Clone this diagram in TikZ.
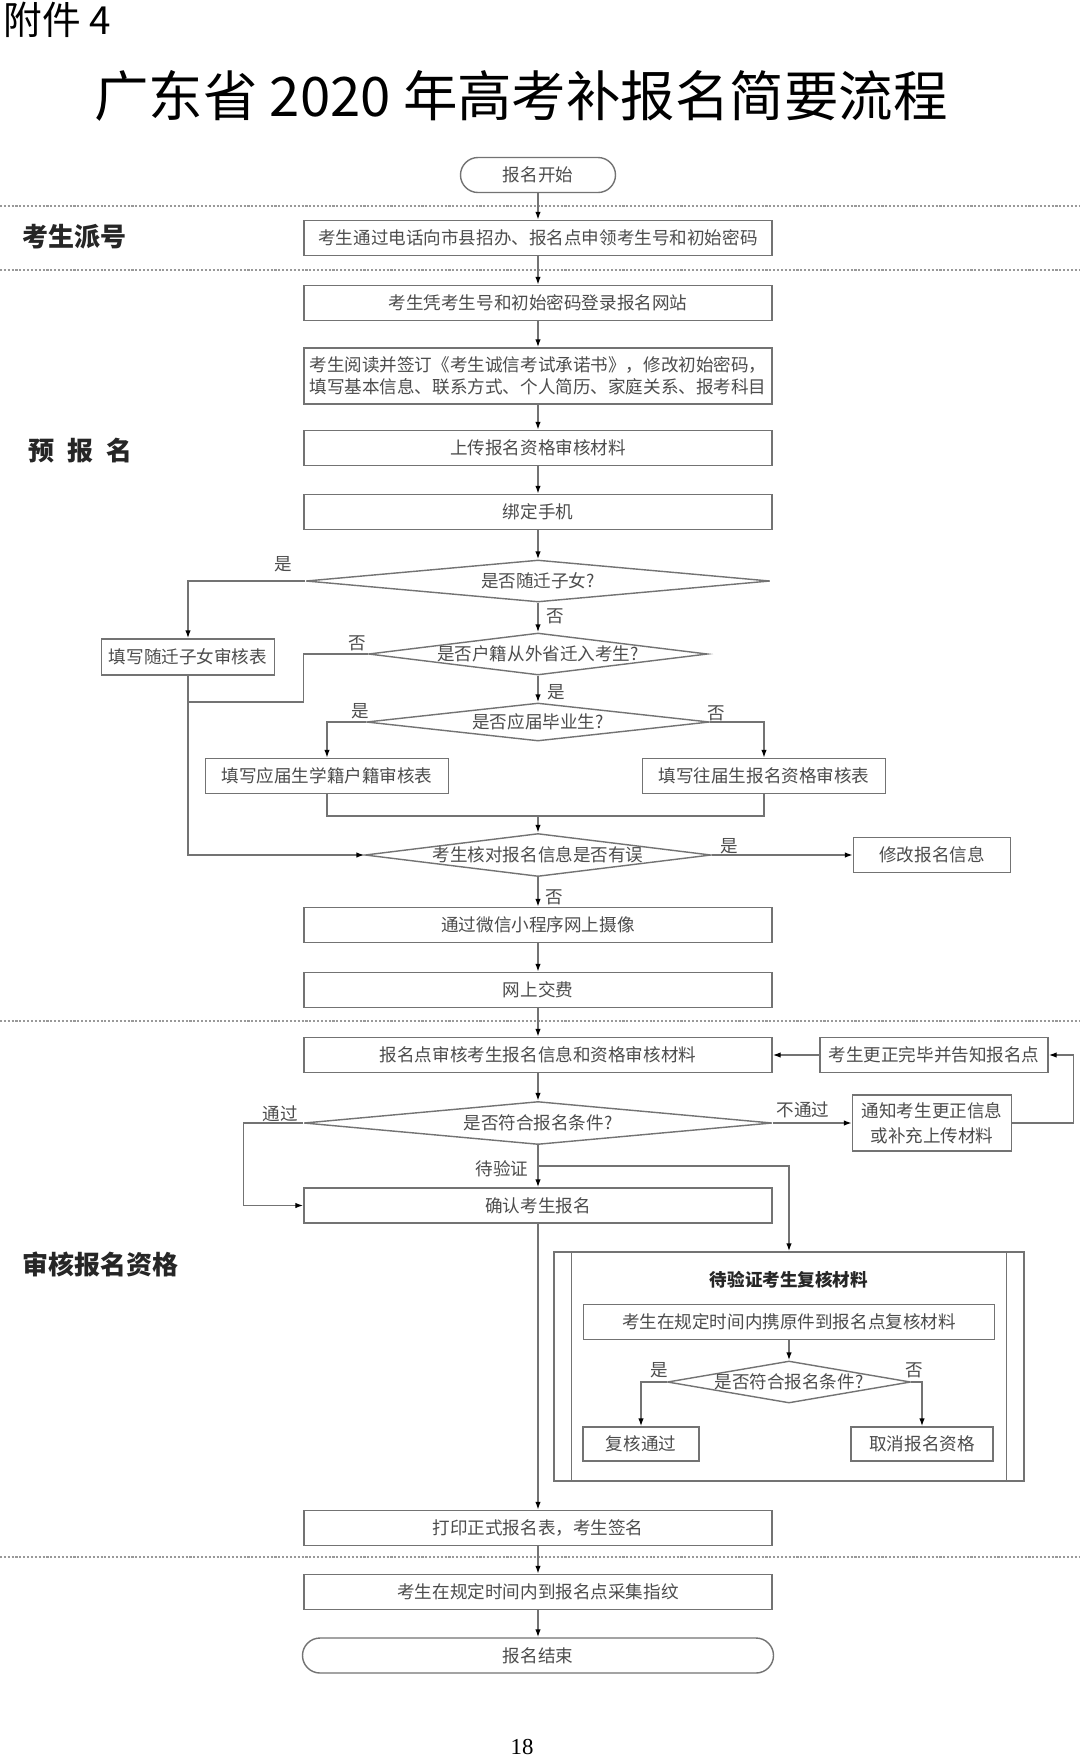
\documentclass[tikz,border=0pt]{standalone}
\usepackage{fontspec}
\setmainfont{Noto Sans CJK SC}
\newfontfamily\pagefont{Liberation Serif}
\usepackage{xcolor}
\usetikzlibrary{shapes.geometric,arrows.meta}

\begin{document}
\begin{tikzpicture}[x=0.2mm, y=-0.2mm,
    box/.style={draw=black!55, line width=0.8pt, rectangle, minimum width=93.6mm, minimum height=7mm, inner sep=0pt, text=black!70, align=center, font=\fontsize{10pt}{12.3pt}\selectfont},
    term/.style={box, rounded corners=3.5mm},
    dia/.style={draw=black!55, line width=0.8pt, diamond, inner sep=0pt, text=black!70, font=\fontsize{10pt}{12pt}\selectfont},
    flow/.style={draw=black!55, line width=0.8pt},
    arr/.style={flow, -{Latex[length=1.6mm,width=1.1mm,color=black]}},
    lbl/.style={inner sep=0pt, text=black!70, font=\fontsize{10pt}{12pt}\selectfont},
    sec/.style={anchor=west, inner sep=0pt, text=black!85, font=\fontsize{14.8pt}{17pt}\selectfont\bfseries},
    divider/.style={black!40, line width=1.2pt, densely dotted}]

    % Page frame
    \useasboundingbox (0,0) rectangle (1080,1758);
    \fill[white] (0,0) rectangle (1080,1758);

    % Heading
    \node[anchor=west, inner sep=0pt, font=\fontsize{22pt}{26pt}\selectfont] (annex) at (3,20) {附件 4};
    \node[inner sep=0pt, font=\fontsize{31pt}{36pt}\selectfont] (title) at (521,96) {广东省 2020 年高考补报名简要流程};

    % Stage dividers
    \draw[divider] (0,206) -- (1080,206);
    \draw[divider] (0,270) -- (1080,270);
    \draw[divider] (0,1021) -- (1080,1021);
    \draw[divider] (0,1557) -- (1080,1557);

    % Stage names
    \node[sec] (s1) at (22,237) {考生派号};
    \node[sec] (s2) at (28,451) {预\enspace 报\enspace 名};
    \node[sec] (s3) at (22,1264) {审核报名资格};

    % Start and first steps
    \node[term, minimum width=31mm] (start) at (538,175) {报名开始};
    \node[box] (b1) at (538,238) {考生通过电话向市县招办、报名点申领考生号和初始密码};
    \node[box] (b2) at (538,303) {考生凭考生号和初始密码登录报名网站};
    \node[box, minimum height=11.2mm] (b3) at (538,376) {考生阅读并签订《考生诚信考试承诺书》，修改初始密码，\\填写基本信息、联系方式、个人简历、家庭关系、报考科目};
    \node[box] (b4) at (538,448) {上传报名资格审核材料};
    \node[box] (b5) at (538,512) {绑定手机};

    % Decisions on the candidate type
    \node[dia, minimum width=92.8mm, minimum height=8.4mm, aspect=11] (d1) at (538,581) {是否随迁子女?};
    \node[box, minimum width=34.6mm, minimum height=7.2mm] (sui) at (188,657) {填写随迁子女审核表};
    \node[dia, minimum width=67.8mm, minimum height=8.4mm, aspect=8] (d2) at (538,654) {是否户籍从外省迁入考生?};
    \coordinate (j0) at (188,702);
    \node[dia, minimum width=68.6mm, minimum height=7.6mm, aspect=9] (d3) at (538,722) {是否应届毕业生?};
    \node[box, minimum width=48.6mm] (yj) at (327,776) {填写应届生学籍户籍审核表};
    \node[box, minimum width=48.6mm] (wj) at (764,776) {填写往届生报名资格审核表};
    \coordinate (j1) at (538,816);

    % Check of the data
    \node[dia, minimum width=69.2mm, minimum height=8.6mm, aspect=8] (d4) at (538,855) {考生核对报名信息是否有误};
    \node[box, minimum width=31.4mm] (fix) at (932,855) {修改报名信息};
    \node[box] (cam) at (538,925) {通过微信小程序网上摄像};
    \node[box] (pay) at (538,990) {网上交费};

    % Review at the registration point
    \node[box] (audit) at (538,1055) {报名点审核考生报名信息和资格审核材料};
    \node[box, minimum width=45.6mm] (corr) at (934,1055) {考生更正完毕并告知报名点};
    \node[dia, minimum width=93.6mm, minimum height=8.6mm, aspect=11] (d5) at (538,1123) {是否符合报名条件?};
    \node[box, minimum width=31.8mm, minimum height=11.2mm, font=\fontsize{10pt}{14pt}\selectfont] (note) at (932,1123) {通知考生更正信息\\或补充上传材料};
    \coordinate (j2) at (538,1166);
    \node[box] (conf) at (538,1205.5) {确认考生报名};

    % Recheck of the originals (predefined process)
    \node[draw=black!55, line width=0.8pt, minimum width=94mm, minimum height=45.8mm, inner sep=0pt] (recheck) at (789,1366.5) {};
    \draw[flow] ([xshift=3.6mm]recheck.north west) -- ([xshift=3.6mm]recheck.south west);
    \draw[flow] ([xshift=-3.6mm]recheck.north east) -- ([xshift=-3.6mm]recheck.south east);
    \node[inner sep=0pt, text=black!85, font=\fontsize{10pt}{12pt}\selectfont\bfseries] (rtitle) at (789,1280) {待验证考生复核材料};
    \node[box, minimum width=82.2mm] (carry) at (789,1322) {考生在规定时间内携原件到报名点复核材料};
    \node[dia, minimum width=48.6mm, minimum height=8.4mm, aspect=5.8] (d6) at (789,1382) {是否符合报名条件?};
    \node[box, minimum width=23.2mm, minimum height=6.8mm] (pass) at (641,1444) {复核通过};
    \node[box, minimum width=28.4mm, minimum height=6.8mm] (cancel) at (922,1444) {取消报名资格};

    % Final steps
    \node[box] (print) at (538,1528) {打印正式报名表，考生签名};
    \node[box] (finger) at (538,1592) {考生在规定时间内到报名点采集指纹};
    \node[term, minimum width=94.2mm] (finish) at (538,1655.5) {报名结束};

    % Main line
    \draw[arr] (start) -- (b1);
    \draw[arr] (b1) -- (b2);
    \draw[arr] (b2) -- (b3);
    \draw[arr] (b3) -- (b4);
    \draw[arr] (b4) -- (b5);
    \draw[arr] (b5) -- (d1);

    % Branches of the decisions
    \draw[arr] (d1.west) -| (sui.north);
    \draw[arr] (d1.south) -- (d2.north);
    \draw[flow] (d2.west) -- ++(-64,0) |- (j0);
    \draw[arr] (d2.south) -- (d3.north);
    \draw[arr] (d3.west) -| (yj.north);
    \draw[arr] (d3.east) -| (wj.north);
    \draw[flow] (yj.south) |- (j1) -| (wj.south);
    \draw[arr] (j1) -- (d4.north);
    \draw[arr] (sui.south) |- (d4.west);
    \draw[arr] (d4.east) -- (fix.west);
    \draw[arr] (d4.south) -- (cam.north);
    \draw[arr] (cam) -- (pay);
    \draw[arr] (pay) -- (audit);

    % Review loop
    \draw[arr] (corr) -- (audit);
    \draw[arr] (audit) -- (d5);
    \draw[arr] (d5.east) -- (note.west);
    \draw[arr] (note.east) -- ++(61,0) |- (corr.east);
    \draw[arr] (d5.west) -- ++(-60,0) |- (conf.west);
    \draw[arr] (d5.south) -- (conf.north);
    \draw[arr] (j2) -| (recheck.north);
    \draw[arr] (conf.south) -- (print.north);

    % Inside the recheck
    \draw[arr] (carry) -- (d6);
    \draw[arr] (d6.west) -| (pass.north);
    \draw[arr] (d6.east) -| (cancel.north);

    % End
    \draw[arr] (print) -- (finger);
    \draw[arr] (finger) -- (finish);

    % Branch labels
    \node[lbl] (l1) at (283,564) {是};
    \node[lbl] (l2) at (555,616) {否};
    \node[lbl] (l3) at (357,643) {否};
    \node[lbl] (l4) at (556,692) {是};
    \node[lbl] (l5) at (360,711) {是};
    \node[lbl] (l6) at (716,713) {否};
    \node[lbl] (l7) at (729,846) {是};
    \node[lbl] (l8) at (554,897) {否};
    \node[lbl] (l9) at (280,1114) {通过};
    \node[lbl] (l10) at (803,1110) {不通过};
    \node[lbl] (l11) at (502,1169) {待验证};
    \node[lbl] (l12) at (659,1370) {是};
    \node[lbl] (l13) at (914,1370) {否};

    % Page number
    \node[inner sep=0pt, font=\pagefont\fontsize{13pt}{15pt}\selectfont] (pageno) at (522,1747) {18};
\end{tikzpicture}
\end{document}
